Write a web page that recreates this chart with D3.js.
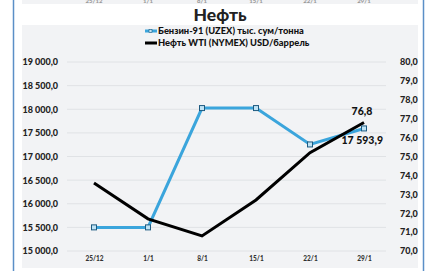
<!DOCTYPE html>
<html>
<head>
<meta charset="utf-8">
<script src="https://cdn.jsdelivr.net/npm/d3@7"></script>
<style>
  body { margin: 0; background: #fff; }
  text { font-family: Lato, "Open Sans", sans-serif; font-weight: 900; }
</style>
</head>
<body>
<div id="chart"></div>
<script>
// data
const dates = ["25/12", "1/1", "8/1", "15/1", "22/1", "29/1"];
const benzin = [15500, 15500, 18025, 18025, 17255, 17593.9];
const wti = [73.6, 71.7, 70.8, 72.7, 75.2, 76.8];
const leftTicks = [15000, 15500, 16000, 16500, 17000, 17500, 18000, 18500, 19000];
const rightTicks = [70, 71, 72, 73, 74, 75, 76, 77, 78, 79, 80];
const seriesNames = ["Бензин-91 (UZEX) тыс. сум/тонна", "Нефть WTI (NYMEX) USD/баррель"];

const width = 428, height = 271;
const blue = "#3ba5dc";

const svg = d3.select("#chart").append("svg")
  .attr("width", width).attr("height", height);

// leftover strip of the chart above
svg.append("rect").attr("x", 22).attr("y", 0).attr("width", 396).attr("height", 4).attr("fill", "#f2f3f5");
// panel background
svg.append("rect").attr("x", 22).attr("y", 25).attr("width", 396).attr("height", 243).attr("fill", "#f2f3f5");

// side borders
svg.append("line").attr("x1", 13.5).attr("x2", 13.5).attr("y1", 0).attr("y2", height)
  .attr("stroke", "#5b8fc7").attr("stroke-width", 1.5);
svg.append("line").attr("x1", 423.5).attr("x2", 423.5).attr("y1", 0).attr("y2", height)
  .attr("stroke", "#5b8fc7").attr("stroke-width", 1.5);

const x = d3.scalePoint().domain(dates).range([94, 364]);
const yL = d3.scaleLinear().domain([15000, 19000]).range([251, 62]);
const yR = d3.scaleLinear().domain([70, 80]).range([251, 62]);

const fmt = (v, d) => d3.format(",." + d + "f")(v).replace(/,/g, " ").replace(".", ",");

// top strip ticks (cut off, as in the picture)
svg.append("g").selectAll("text").data(dates).enter().append("text")
  .attr("x", d => x(d)).attr("y", 2.5).attr("text-anchor", "middle")
  .attr("font-size", 6).attr("fill", "#999").text(d => d);

// gridlines
svg.append("g").selectAll("line").data(leftTicks).enter().append("line")
  .attr("x1", 67).attr("x2", 386)
  .attr("y1", d => yL(d)).attr("y2", d => yL(d))
  .attr("stroke", "#e0e2e5").attr("stroke-width", 1);

// left axis
const axL = svg.append("g").attr("transform", "translate(58,0)")
  .call(d3.axisLeft(yL).tickValues(leftTicks).tickSize(0).tickPadding(0).tickFormat(d => fmt(d, 1)));
axL.select(".domain").remove();
axL.selectAll("text").attr("font-size", 9).attr("fill", "#222").attr("font-family", "Lato").attr("font-weight", 900);

// right axis
const axR = svg.append("g").attr("transform", "translate(400,0)")
  .call(d3.axisRight(yR).tickValues(rightTicks).tickSize(0).tickPadding(0).tickFormat(d => fmt(d, 1)));
axR.select(".domain").remove();
axR.selectAll("text").attr("font-size", 9).attr("fill", "#222").attr("font-family", "Lato").attr("font-weight", 900);

// x axis
const axX = svg.append("g").attr("transform", "translate(0,256)")
  .call(d3.axisBottom(x).tickSize(0).tickPadding(0));
axX.select(".domain").remove();
axX.selectAll("text").attr("font-size", 6.5).attr("fill", "#333").attr("font-family", "Lato").attr("font-weight", 900);

// benzin line
svg.append("path").datum(benzin)
  .attr("fill", "none").attr("stroke", blue).attr("stroke-width", 3)
  .attr("d", d3.line().x((d, i) => x(dates[i])).y(d => yL(d)));

// wti line
svg.append("path").datum(wti)
  .attr("fill", "none").attr("stroke", "#000").attr("stroke-width", 3)
  .attr("d", d3.line().x((d, i) => x(dates[i])).y(d => yR(d)));

// benzin markers
svg.append("g").selectAll("rect").data(benzin).enter().append("rect")
  .attr("x", (d, i) => x(dates[i]) - 2.5).attr("y", d => yL(d) - 2.5)
  .attr("width", 5).attr("height", 5)
  .attr("fill", "#bfe3f5").attr("stroke", "#1d5a80").attr("stroke-width", 1);

// end labels
const last = dates.length - 1;
svg.append("text").attr("x", x(dates[last]) - 2).attr("y", yR(wti[last]) - 7)
  .attr("text-anchor", "middle").attr("font-size", 10.5).attr("fill", "#111")
  .text(fmt(wti[last], 1));
svg.append("text").attr("x", x(dates[last]) + 19).attr("y", yL(benzin[last]) + 16)
  .attr("text-anchor", "end").attr("font-size", 10.5).attr("fill", "#111")
  .text(fmt(benzin[last], 1));

// title
svg.append("text").attr("x", 220).attr("y", 21).attr("text-anchor", "middle")
  .attr("font-size", 17.5).attr("fill", "#222").text("Нефть");

// legend
const legColors = [blue, "#000"];
const leg = svg.append("g").selectAll("g").data(seriesNames).enter().append("g")
  .attr("transform", (d, i) => `translate(145,${31 + i * 12})`);
leg.append("line").attr("x1", 0).attr("x2", 12).attr("y1", 0).attr("y2", 0)
  .attr("stroke", (d, i) => legColors[i]).attr("stroke-width", 3);
leg.filter((d, i) => i === 0).append("rect").attr("x", 4).attr("y", -1.5).attr("width", 3).attr("height", 3)
  .attr("fill", "#bfe3f5").attr("stroke", "#1d5a80").attr("stroke-width", 0.6);
leg.append("text").attr("x", 13).attr("y", 3.3).attr("font-size", 9.3).attr("fill", "#111").text(d => d);
</script>
</body>
</html>
